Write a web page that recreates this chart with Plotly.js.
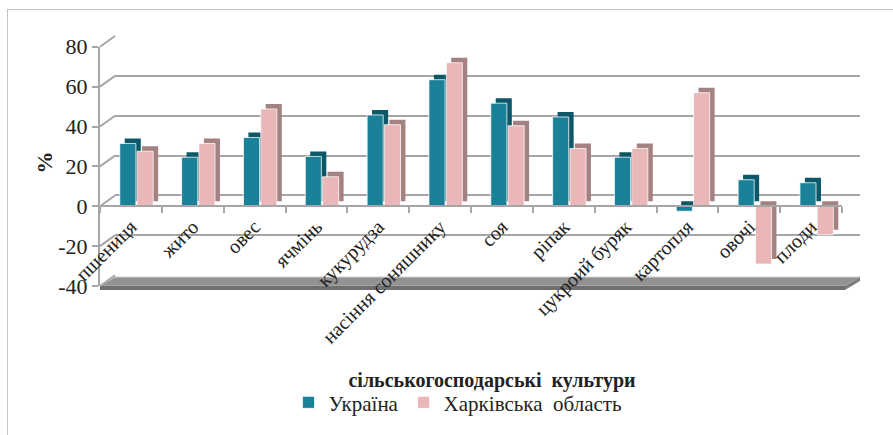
<!DOCTYPE html>
<html>
<head>
<meta charset="utf-8">
<script src="https://cdn.plot.ly/plotly-3.0.1.min.js"></script>
</head>
<body style="margin:0">
<div style="position:relative;width:893px;height:435px;overflow:hidden;font-family:'Liberation Serif'">
  <div id="xtitle" style="font-family:'Liberation Serif';position:absolute;left:492px;top:380px;transform:translate(-50%,-50%);font-weight:bold;font-size:20px;color:#222;white-space:pre">сільськогосподарські  культури</div>
  <div id="chart" style="position:absolute;left:0;top:0;width:893px;height:435px"></div>
  <div style="position:absolute;left:7px;top:9px;width:1000px;height:1000px;border-left:1px solid #c4c4c4;border-top:1px solid #c4c4c4;pointer-events:none"></div>
</div>
<script>
// ---- data ----
const categories = ['пшениця','жито','овес','ячмінь','кукурудза','насіння соняшнику','соя','ріпак','цукроий буряк','картопля','овочі','плоди'];
const ukraine = [31.5, 24.6, 34.5, 25.0, 45.8, 63.5, 51.7, 44.8, 24.6, -2.5, 13.3, 11.8];
const kharkiv = [27.6, 31.5, 48.8, 14.8, 40.9, 72.0, 40.4, 29.0, 29.0, 57.0, -29.0, -14.3];
const seriesNames = ['Україна', 'Харківська  область'];
const yTickVals = [-40, -20, 0, 20, 40, 60, 80];
const yTickText = ['-40', '-20', '0', '20', '40', '60', '80'];

// ---- geometry helpers (pixel -> paper) ----
const PL = 100, PR = 860, PT = 36, PB = 291;
const px = p => (p - PL) / (PR - PL);
const py = p => (PB - p) / (PB - PT);
const frontX = [0, px(842)], backX = [px(115), 1];
const frontY = [0, py(47)], backY = [py(280), 1];
const fy = v => frontY[0] + (frontY[1] - frontY[0]) * (v + 40) / 120;
const by = v => backY[0] + (backY[1] - backY[0]) * (v + 40) / 120;

const depth = 2.5, side = 0.08, w = 0.26;
const cU = '#1b8199', cUs = '#0c5868';
const cK = '#e9b7b7', cKs = '#a58282';

const traces = [
  {type:'scatter', x:[], y:[], xaxis:'x', yaxis:'y', showlegend:false, hoverinfo:'skip'},
  {type:'bar', x:categories, y:ukraine, base:depth, offset:-0.18+side, width:w, xaxis:'x2', yaxis:'y2',
   marker:{color:cUs}, showlegend:false, hoverinfo:'skip'},
  {type:'bar', name:seriesNames[0], x:categories, y:ukraine, offset:-0.18, width:w, xaxis:'x2', yaxis:'y2',
   marker:{color:cU, line:{color:'rgba(255,255,255,0.75)', width:1}}},
  {type:'bar', x:categories, y:kharkiv, base:depth, offset:0.10+side, width:w, xaxis:'x2', yaxis:'y2',
   marker:{color:cKs}, showlegend:false, hoverinfo:'skip'},
  {type:'bar', name:seriesNames[1], x:categories, y:kharkiv, offset:0.10, width:w, xaxis:'x2', yaxis:'y2',
   marker:{color:cK, line:{color:'rgba(255,255,255,0.75)', width:1}}}
];

const shapes = [];
yTickVals.forEach(v => {
  shapes.push({type:'line', xref:'paper', yref:'paper', x0:0, y0:fy(v), x1:backX[0], y1:by(v),
               line:{color:'#a6a6a6', width:2}, layer:'below'});
});
// floor slab
shapes.push({type:'path', xref:'paper', yref:'paper', layer:'below',
  path:`M ${px(100)},${py(291)} L ${px(115)},${py(282)} L 1,${py(282)} L ${px(845)},${py(291)} Z`,
  fillcolor:'#929292', line:{color:'#b5b5b5', width:1}});
shapes.push({type:'path', xref:'paper', yref:'paper', layer:'below',
  path:`M ${px(100)},${py(291)} L ${px(845)},${py(291)} L ${px(845)},${py(295)} L ${px(100)},${py(295)} Z`,
  fillcolor:'#6f6f6f', line:{width:0}});
shapes.push({type:'path', xref:'paper', yref:'paper', layer:'below',
  path:`M ${px(845)},${py(291)} L 1,${py(282)} L 1,${py(286)} L ${px(845)},${py(295)} Z`,
  fillcolor:'#7d7d7d', line:{width:0}});

const layout = {
  width:893, height:435,
  margin:{l:PL, r:893-PR, t:PT, b:435-PB, pad:0},
  paper_bgcolor:'rgba(255,255,255,0)', plot_bgcolor:'rgba(0,0,0,0)',
  barmode:'overlay',
  showlegend:true,
  legend:{orientation:'h', x:px(458), y:py(410), xanchor:'center', yanchor:'middle',
          font:{family:'Liberation Serif', size:21, color:'#222'}, itemwidth:30, bgcolor:'rgba(0,0,0,0)'},
  xaxis:{domain:backX, anchor:'y', showgrid:false, zeroline:false, showline:false,
         showticklabels:false, ticks:'', range:[0,1], fixedrange:true},
  yaxis:{domain:backY, anchor:'x', range:[-40,80], tickvals:yTickVals, showgrid:true,
         gridcolor:'#a6a6a6', gridwidth:2, zeroline:false, showline:false,
         showticklabels:false, ticks:''},
  xaxis2:{domain:frontX, anchor:'free', position:fy(0), type:'category',
          showline:true, linecolor:'#a6a6a6', linewidth:2, ticks:'outside', tickson:'boundaries',
          ticklen:6, tickwidth:2, tickcolor:'#a6a6a6', tickangle:-45, showgrid:false, zeroline:false,
          tickfont:{family:'Liberation Serif', size:20, color:'#222'}},
  yaxis2:{domain:frontY, anchor:'x2', range:[-40,80], tickvals:yTickVals, ticktext:yTickText,
          showgrid:false, zeroline:false, showline:true, linecolor:'#a6a6a6', linewidth:2,
          ticks:'outside', ticklen:6, tickwidth:2, tickcolor:'#a6a6a6',
          tickfont:{family:'Liberation Serif', size:22, color:'#222'}},
  shapes:shapes,
  annotations:[
    {text:'<b>%</b>', xref:'paper', yref:'paper', x:px(44), y:py(165), textangle:-90,
     showarrow:false, xanchor:'center', yanchor:'middle', font:{family:'Liberation Serif', size:22, color:'#222'}}
  ]
};

Plotly.newPlot('chart', traces, layout, {displayModeBar:false, staticPlot:true});
</script>
</body>
</html>
